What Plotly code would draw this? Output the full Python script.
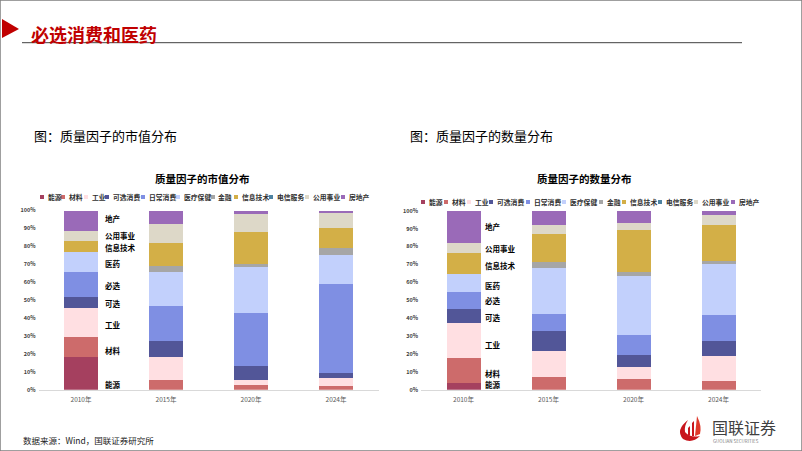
import plotly.graph_objects as go

WIDTH = 802
HEIGHT = 451

years = ["2010年", "2015年", "2020年", "2024年"]
sectors = ["能源", "材料", "工业", "可选消费", "日常消费", "医疗保健", "金融", "信息技术", "电信服务", "公用事业", "房地产"]
colors = ["#A5405F", "#CD6B6B", "#FFDFE2", "#525698", "#7F8FE3", "#C2D0FC",
          "#A6A6A6", "#D3AF47", "#4E82A0", "#DDD8C8", "#9A6AB8"]

# share of market value, %
cap_energy = [18.4, 0, 0, 0]
cap_material = [10.8, 5.6, 2.8, 2.0]
cap_industrial = [16.4, 12.8, 2.4, 4.7]
cap_discretionary = [6.2, 8.6, 8.2, 2.6]
cap_staples = [14.1, 19.7, 29.6, 49.9]
cap_health = [10.8, 19.2, 25.2, 16.0]
cap_finance = [0, 3.1, 2.0, 3.6]
cap_it = [6.2, 13.1, 17.9, 11.7]
cap_telecom = [0, 0, 0, 0]
cap_utilities = [5.6, 10.3, 10.2, 8.8]
cap_property = [11.5, 7.6, 1.7, 0.7]

# share of stock count, %
num_energy = [3.7, 0, 0, 0]
num_material = [13.8, 6.9, 5.8, 5.0]
num_industrial = [19.6, 14.9, 6.7, 13.8]
num_discretionary = [8.0, 11.0, 6.9, 8.2]
num_staples = [9.6, 9.7, 11.0, 14.7]
num_health = [9.7, 25.3, 33.3, 28.7]
num_finance = [0, 3.7, 1.8, 1.6]
num_it = [12.0, 15.5, 23.7, 19.8]
num_telecom = [0, 0, 0, 0]
num_utilities = [5.7, 5.0, 3.7, 5.6]
num_property = [17.9, 8.0, 7.1, 2.6]

cap_series = [cap_energy, cap_material, cap_industrial, cap_discretionary, cap_staples, cap_health,
              cap_finance, cap_it, cap_telecom, cap_utilities, cap_property]
num_series = [num_energy, num_material, num_industrial, num_discretionary, num_staples, num_health,
              num_finance, num_it, num_telecom, num_utilities, num_property]

cap_labels = ["地产", "公用事业", "信息技术", "医药", "必选", "可选", "工业", "材料", "能源"]
cap_label_y = [218, 235, 247, 263, 285.5, 303, 324, 350, 384]
num_labels = ["地产", "公用事业", "信息技术", "医药", "必选", "可选", "工业", "材料", "能源"]
num_label_y = [226, 248, 265, 285, 300, 317, 344, 373, 384]

cap_legend_x = [42, 63, 86, 107, 143, 178, 213, 236, 271, 307, 343]
num_legend_x = [423, 446, 469, 491, 528, 564, 601, 624, 660, 696, 733]

CJK = "Noto Sans CJK SC"


def fx(x):
    return x / WIDTH


def fy(y):
    return 1 - y / HEIGHT


def text(x, y, s, size, color="#000000", anchor="left"):
    return dict(x=fx(x), y=fy(y), xref="paper", yref="paper", text=s, showarrow=False,
                xanchor=anchor, yanchor="middle", font=dict(size=size, color=color, family=CJK))


def rect(x0, y0, x1, y1, color):
    return dict(type="rect", xref="paper", yref="paper", x0=fx(x0), y0=fy(y0), x1=fx(x1), y1=fy(y1),
                fillcolor=color, line_width=0)


fig = go.Figure()
for name, color, values in zip(sectors, colors, cap_series):
    fig.add_trace(go.Bar(x=years, y=values, name=name, marker_color=color, marker_line_width=0,
                         xaxis="x", yaxis="y", showlegend=False))
for name, color, values in zip(sectors, colors, num_series):
    fig.add_trace(go.Bar(x=years, y=values, name=name, marker_color=color, marker_line_width=0,
                         xaxis="x2", yaxis="y2", showlegend=False))

annotations = [
    text(29, 34, "<b>必选消费和医药</b>", 18, "#C00000"),
    text(32, 136, "图：质量因子的市值分布", 13),
    text(408, 136, "图：质量因子的数量分布", 13),
    text(202, 178, "<b>质量因子的市值分布</b>", 10.5, anchor="center"),
    text(584, 178, "<b>质量因子的数量分布</b>", 10.5, anchor="center"),
    text(21, 440, "数据来源：Wind，国联证券研究所", 8.5, "#222222"),
    text(710, 427, "国联证券", 16, "#404040"),
    text(711, 440.5, "GUOLIAN SECURITIES", 4.5, "#808080"),
]
shapes = [
    dict(type="rect", xref="paper", yref="paper", x0=0, y0=0, x1=1, y1=1,
         line=dict(color="#808080", width=1.5), fillcolor="rgba(0,0,0,0)"),
    dict(type="path", xref="paper", yref="paper", fillcolor="#C00000", line_width=0,
         path=f"M {fx(2)} {fy(19)} L {fx(19)} {fy(29)} L {fx(2)} {fy(38)} Z"),
    dict(type="line", xref="paper", yref="paper", x0=fx(22), x1=fx(742), y0=fy(42.7), y1=fy(42.7),
         line=dict(color="#404040", width=1)),
    # logo
    dict(type="path", xref="paper", yref="paper", fillcolor="#C8161D", line_width=0,
         path=f"M {fx(688)} {fy(420)} Q {fx(675)} {fy(430)} {fx(683)} {fy(439)} Q {fx(692)} {fy(444)} {fx(700)} {fy(436)} "
              f"Q {fx(690)} {fy(438)} {fx(685)} {fy(432)} Q {fx(684)} {fy(426)} {fx(688)} {fy(420)} Z"),
    dict(type="path", xref="paper", yref="paper", fillcolor="#E0392B", line_width=0,
         path=f"M {fx(697)} {fy(416)} Q {fx(702)} {fy(426)} {fx(700)} {fy(434)} L {fx(695)} {fy(436)} Z"),
    dict(type="path", xref="paper", yref="paper", fillcolor="#C8161D", line_width=0,
         path=f"M {fx(692)} {fy(423)} L {fx(694)} {fy(421)} L {fx(694)} {fy(436)} L {fx(692)} {fy(436)} Z"),
    dict(type="path", xref="paper", yref="paper", fillcolor="#C8161D", line_width=0,
         path=f"M {fx(688)} {fy(428)} L {fx(690)} {fy(426)} L {fx(690)} {fy(436)} L {fx(688)} {fy(435)} Z"),
]

for name, color, x in zip(sectors, colors, cap_legend_x):
    shapes.append(rect(x - 2, 195, x + 2, 199, color))
    annotations.append(text(x + 3.5, 196.8, f"<b>{name}</b>", 6.8, "#303030"))
for name, color, x in zip(sectors, colors, num_legend_x):
    shapes.append(rect(x - 2, 200, x + 2, 204, color))
    annotations.append(text(x + 3.5, 201.8, f"<b>{name}</b>", 6.8, "#303030"))
for name, y in zip(cap_labels, cap_label_y):
    annotations.append(text(103, y, f"<b>{name}</b>", 7.5))
for name, y in zip(num_labels, num_label_y):
    annotations.append(text(483, y, f"<b>{name}</b>", 7.5))

xaxis_style = dict(type="category", showgrid=False, showline=True, linecolor="#D9D9D9", linewidth=1, ticks="",
                   automargin=False, ticklabelstandoff=3, tickfont=dict(size=6.5, color="#595959", family=CJK))
yaxis_style = dict(range=[0, 100], tickvals=[0, 10, 20, 30, 40, 50, 60, 70, 80, 90, 100],
                   ticktext=[f"<b>{v}%</b>" for v in range(0, 101, 10)], showgrid=False, zeroline=False,
                   automargin=False, ticklabelstandoff=2, tickfont=dict(size=5.5, color="#404040", family=CJK), ticks="")

fig.update_layout(
    width=WIDTH,
    height=HEIGHT,
    autosize=False,
    margin=dict(l=0, r=0, t=0, b=0, autoexpand=False),
    paper_bgcolor="white",
    plot_bgcolor="white",
    barmode="stack",
    bargap=0.6,
    showlegend=False,
    xaxis={**xaxis_style, "domain": [fx(38.5), fx(378.5)], "anchor": "y"},
    yaxis={**yaxis_style, "domain": [fy(389.7), fy(210.5)], "anchor": "x"},
    xaxis2={**xaxis_style, "domain": [fx(421), fx(761)], "anchor": "y2"},
    yaxis2={**yaxis_style, "domain": [fy(389.7), fy(210.7)], "anchor": "x2"},
    annotations=annotations,
    shapes=shapes,
)

# the page's default body margin would shift everything by 8px
fig.write_html("out.html", config={"displayModeBar": False},
               post_script="document.body.style.margin = '0';")
